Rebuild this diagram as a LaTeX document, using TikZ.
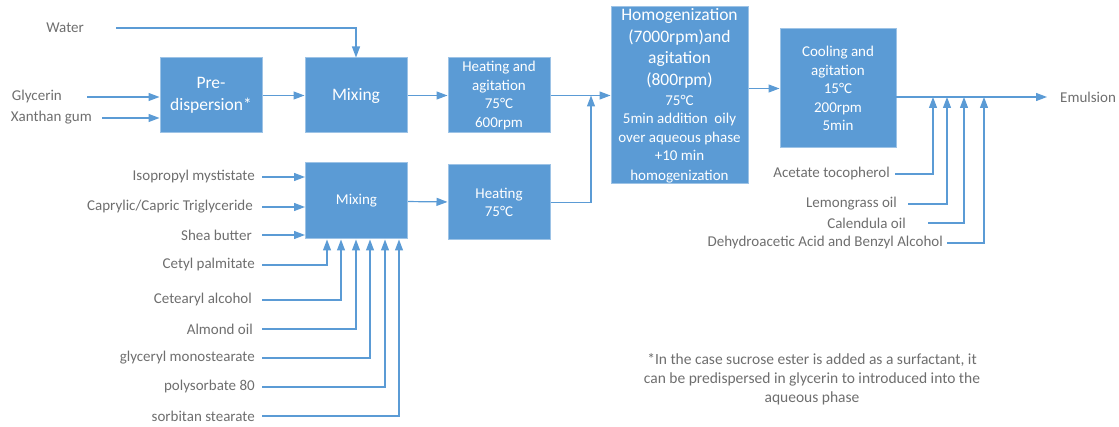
\documentclass[tikz,border=0pt]{standalone}
\usepackage{fontspec}
\setmainfont{Carlito}
\definecolor{boxblue}{RGB}{91,155,213}
\definecolor{boxedge}{RGB}{157,195,230}
\definecolor{lineblue}{RGB}{91,155,213}
\definecolor{txtgray}{RGB}{110,110,110}
\usetikzlibrary{arrows.meta}
\newcommand{\bigtxt}{\fontsize{17.5}{21.5}\selectfont}
\newcommand{\midtxt}{\fontsize{15}{18.5}\selectfont}

\begin{document}
\begin{tikzpicture}[x=1pt, y=-1pt,
  stage/.style={draw=boxedge, line width=1pt, fill=boxblue, text=white,
    align=center, inner sep=0pt},
  lbl/.style={font=\midtxt, text=txtgray, anchor=east, inner sep=0pt},
  arw/.style={-{Triangle[length=11pt, width=8pt]}, line width=1.2pt, lineblue},
]
\useasboundingbox (0,0) rectangle (1119,427);

% Process boxes
\node[stage, minimum width=102pt, minimum height=75pt, font=\bigtxt] (pre) at (211,95.5) {Pre-\\dispersion*};
\node[stage, minimum width=102pt, minimum height=75pt, font=\bigtxt] (mixA) at (356,95.5) {Mixing};
\node[stage, minimum width=102pt, minimum height=75pt, font=\midtxt] (heatA) at (499,95.5) {Heating and\\agitation\\75°C\\600rpm};
\node[stage, minimum width=137pt, minimum height=177pt, font=\midtxt] (homog) at (679.5,95.5)
  {\bigtxt Homogenization\\[3pt]\bigtxt (7000rpm)and\\[3pt]\bigtxt agitation\\[3pt]\bigtxt (800rpm)\\[1.5pt]\midtxt 75°C\\\midtxt 5min addition\ \ oily\\\midtxt over aqueous phase\\\midtxt +10 min\\[1pt]\midtxt homogenization};
\node[stage, minimum width=116pt, minimum height=119pt, font=\midtxt] (cool) at (838,88.5) {Cooling and\\agitation\\15°C\\200rpm\\5min};
\node[stage, minimum width=102pt, minimum height=76pt, font=\midtxt] (mixB) at (356.5,201) {Mixing};
\node[stage, minimum width=102pt, minimum height=75pt, font=\midtxt] (heatB) at (499,202.5) {Heating\\75°C};

% Aqueous phase inputs
\node[lbl] (wat) at (84,28) {Water};
\node[lbl] (gly) at (62,97) {Glycerin};
\node[lbl] (xan) at (92,118) {Xanthan gum};

% Oily phase inputs
\node[lbl] (iso) at (255,177) {Isopropyl mystistate};
\node[lbl] (cap) at (253,207) {Caprylic/Capric Triglyceride};
\node[lbl] (shea) at (252,235) {Shea butter};
\node[lbl] (cet) at (255,265) {Cetyl palmitate};
\node[lbl] (cea) at (252,300) {Cetearyl alcohol};
\node[lbl] (alm) at (253,329) {Almond oil};
\node[lbl] (gms) at (255,358) {glyceryl monostearate};
\node[lbl] (pol) at (255,387) {polysorbate 80};
\node[lbl] (sor) at (255,416) {sorbitan stearate};

% Cooling additives
\node[lbl] (ace) at (890,174) {Acetate tocopherol};
\node[lbl] (lem) at (897,204) {Lemongrass oil};
\node[lbl] (cal) at (906,223) {Calendula oil};
\node[lbl] (dha) at (943,243) {Dehydroacetic Acid and Benzyl Alcohol};
\node[lbl, anchor=west] (emul) at (1060,97) {Emulsion};

% Footnote
\node[font=\fontsize{15.5}{19}\selectfont, text=txtgray, align=center] (note) at (812,379)
  {*In the case sucrose ester is added as a surfactant, it\\can be predispersed in glycerin to introduced into the\\aqueous phase};

% Main flow
\draw[arw] ([xshift=32pt]wat.east) -| (mixA.north);
\draw[arw] ([xshift=25pt]gly.east) -- (gly.east -| pre.west);
\draw[arw] ([xshift=10pt]xan.east) -- (xan.east -| pre.west);
\draw[arw] (pre) -- (mixA);
\draw[arw] (mixA) -- (heatA);
\draw[arw] (heatA) -- (homog);
\coordinate (jn) at (591,95.5);
\draw[arw] (heatB.east) -| (jn);
\draw[arw] (homog.east |- cool.west) -- (cool.west);
\coordinate (cout) at (896,97);
\draw[arw] (cout) -- ([xshift=-13pt]emul.west);
\draw[arw] (mixB) -- (heatB);

% Oily phase arrows
\draw[arw] ([xshift=7pt]iso.east) -- (iso.east -| mixB.west);
\draw[arw] ([xshift=9pt]cap.east) -- (cap.east -| mixB.west);
\draw[arw] ([xshift=10pt]shea.east) -- (shea.east -| mixB.west);
\draw[arw] ([xshift=7pt]cet.east) -| ([xshift=22pt]mixB.south west);
\draw[arw] ([xshift=10pt]cea.east) -| ([xshift=36pt]mixB.south west);
\draw[arw] ([xshift=9pt]alm.east) -| ([xshift=51pt]mixB.south west);
\draw[arw] ([xshift=7pt]gms.east) -| ([xshift=65pt]mixB.south west);
\draw[arw] ([xshift=7pt]pol.east) -| ([xshift=80pt]mixB.south west);
\draw[arw] ([xshift=7pt]sor.east) -| ([xshift=94pt]mixB.south west);

% Additives after cooling
\draw[arw] ([xshift=5pt]ace.east) -| ([xshift=37pt]cout);
\draw[arw] ([xshift=11pt]lem.east) -| ([xshift=51pt]cout);
\draw[arw] ([xshift=22pt]cal.east) -| ([xshift=68pt]cout);
\draw[arw] ([xshift=4pt]dha.east) -| ([xshift=88pt]cout);
\end{tikzpicture}
\end{document}
